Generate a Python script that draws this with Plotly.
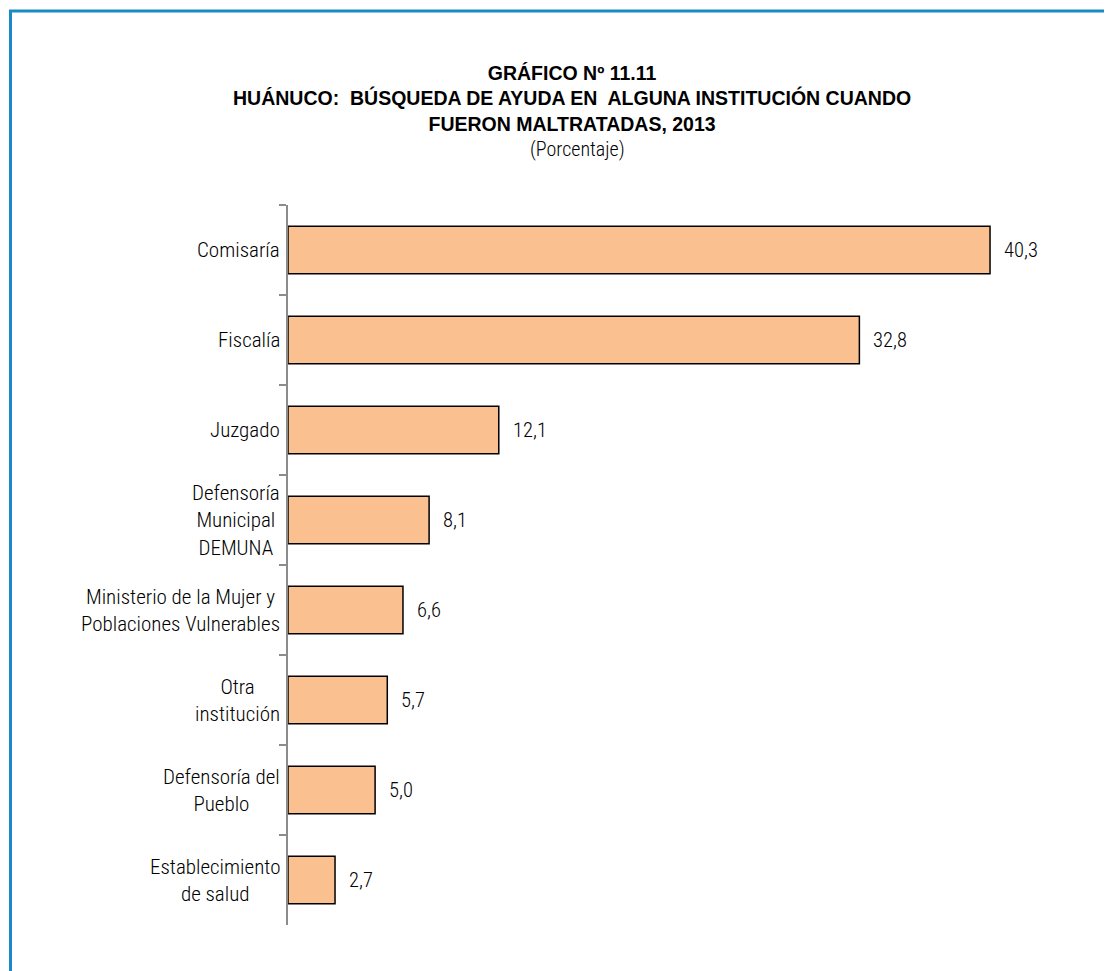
import plotly.graph_objects as go

categories = [
    "Comisaría",
    "Fiscalía",
    "Juzgado",
    "Defensoría<br>Municipal<br>DEMUNA",
    "Ministerio de la Mujer y<br>Poblaciones Vulnerables",
    "Otra<br>institución",
    "Defensoría del<br>Pueblo",
    "Establecimiento<br>de salud",
]
values = [40.3, 32.8, 12.1, 8.1, 6.6, 5.7, 5.0, 2.7]
value_labels = [f"{v:.1f}".replace(".", ",") for v in values]

title_lines = [
    "GRÁFICO Nº 11.11",
    "HUÁNUCO:  BÚSQUEDA DE AYUDA EN  ALGUNA INSTITUCIÓN CUANDO",
    "FUERON MALTRATADAS, 2013",
]
subtitle = "(Porcentaje)"

# page body has an 8px margin, so the figure is offset by 8px
OFF = 8
W, H = 1112 - OFF, 971 - OFF
L, R, T, B = 288 - OFF, 40, 205 - OFF, 46
pw, ph = W - L - R, H - T - B

FONT = "Roboto Condensed, Liberation Sans Narrow, Arial Narrow, Liberation Sans, sans-serif"
TITLE_FONT = "Liberation Sans, Arial, sans-serif"

fig = go.Figure()
fig.add_trace(go.Bar(
    y=categories, x=values, orientation="h",
    marker=dict(color="#FAC090", line=dict(color="#000000", width=1.5)),
    width=0.53,
    hoverinfo="skip",
))

annotations = []
for c, v, t in zip(categories, values, value_labels):
    annotations.append(dict(x=v, y=c, xref="x", yref="y", text=t, showarrow=False,
                            xanchor="left", xshift=12,
                            font=dict(family=FONT, size=20.5, color="#000", weight=300)))
    annotations.append(dict(x=0, y=c, xref="paper", yref="y", text=c, showarrow=False,
                            xanchor="right", xshift=-6, align="center",
                            font=dict(family=FONT, size=21, color="#000", weight=300)))

def page_y(py):
    return 1 + (T - (py - OFF)) / ph

title_x = (572 - OFF - L) / pw
annotations.append(dict(
    x=title_x, y=page_y(98), xref="paper", yref="paper", showarrow=False,
    xanchor="center", yanchor="middle", align="center",
    text="<b>" + "<br>".join(title_lines) + "</b>",
    font=dict(family=TITLE_FONT, size=19.5, color="#000"),
))
annotations.append(dict(
    x=(577 - OFF - L) / pw, y=page_y(149), xref="paper", yref="paper", showarrow=False,
    xanchor="center", yanchor="middle",
    text=subtitle,
    font=dict(family=FONT, size=20, color="#000", weight=300),
))

# frame border
shapes = [dict(type="rect", xref="paper", yref="paper",
               x0=(10.5 - OFF - L) / pw, x1=(W + 20 - L) / pw,
               y0=page_y(11), y1=-(B + 20) / ph,
               line=dict(color="#1A8AC6", width=3), layer="above")]

fig.update_layout(
    width=W, height=H,
    margin=dict(l=L, r=R, t=T, b=B),
    paper_bgcolor="white", plot_bgcolor="white",
    showlegend=False,
    annotations=annotations,
    shapes=shapes,
    xaxis=dict(range=[0, pw / 17.42], visible=False, fixedrange=True),
    yaxis=dict(autorange="reversed", showticklabels=False, showgrid=False,
               showline=True, linecolor="#8C8C8C", linewidth=1.5,
               ticks="outside", tickson="boundaries", ticklen=7,
               tickcolor="#8C8C8C", tickwidth=1.5, zeroline=False),
    font=dict(family=FONT),
)

fig.write_html("out.html")
